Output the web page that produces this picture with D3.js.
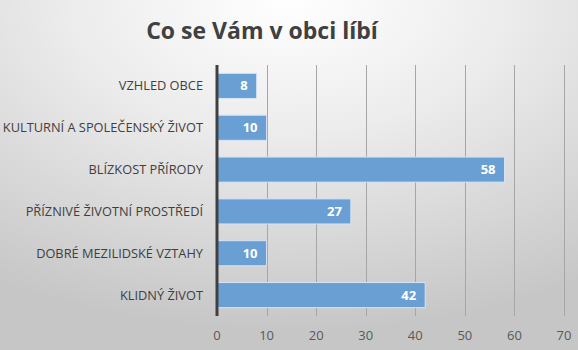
<!DOCTYPE html>
<html>
<head>
<meta charset="utf-8">
<script src="https://cdn.jsdelivr.net/npm/d3@7"></script>
<style>
	body { margin: 0; }
	svg { display: block; }
	.cat-label { font-family: "Open Sans", sans-serif; font-size: 12.8px; fill: #404040; }
	.tick-label { font-family: "Open Sans", sans-serif; font-size: 13px; fill: #595959; }
	.value-label { font-family: "Open Sans", sans-serif; font-size: 13px; font-weight: bold; fill: #ffffff; }
	.title { font-family: "Open Sans", sans-serif; font-size: 23px; font-weight: bold; fill: #404040; }
</style>
</head>
<body>
<svg width="578" height="350"></svg>
<script>
var categories = ["VZHLED OBCE", "KULTURNÍ A SPOLEČENSKÝ ŽIVOT", "BLÍZKOST PŘÍRODY", "PŘÍZNIVÉ ŽIVOTNÍ PROSTŘEDÍ", "DOBRÉ MEZILIDSKÉ VZTAHY", "KLIDNÝ ŽIVOT"];
var values = [8, 10, 58, 27, 10, 42];
var ticks = [0, 10, 20, 30, 40, 50, 60, 70];
var title = "Co se Vám v obci líbí";

var svg = d3.select("svg");
var width = 578, height = 350;

// soft radial background
var defs = svg.append("defs");
var grad = defs.append("radialGradient")
	.attr("id", "bg")
	.attr("cx", "50%").attr("cy", "0%")
	.attr("r", "95%");
grad.append("stop").attr("offset", "0%").attr("stop-color", "#ffffff");
grad.append("stop").attr("offset", "40%").attr("stop-color", "#ececec");
grad.append("stop").attr("offset", "100%").attr("stop-color", "#c6c6c6");

svg.append("rect")
	.attr("width", width)
	.attr("height", height)
	.attr("fill", "url(#bg)");

svg.append("text")
	.attr("class", "title")
	.attr("x", 262)
	.attr("y", 39)
	.attr("text-anchor", "middle")
	.text(title);

var plotLeft = 217, plotRight = 564, plotTop = 65, plotBottom = 316;

var x = d3.scaleLinear().domain([0, 70]).range([plotLeft, plotRight]);
var y = d3.scaleBand().domain(categories).range([plotTop, plotBottom]).paddingInner(0.4).paddingOuter(0.2);

// vertical gridlines
svg.selectAll(".grid")
	.data(ticks.slice(1))
	.enter().append("line")
	.attr("x1", function(d) { return Math.round(x(d)) + 0.5; })
	.attr("x2", function(d) { return Math.round(x(d)) + 0.5; })
	.attr("y1", plotTop)
	.attr("y2", plotBottom)
	.attr("stroke", "#a6a6a6")
	.attr("stroke-width", 1);

// bars
svg.selectAll(".bar")
	.data(values)
	.enter().append("rect")
	.attr("class", "bar")
	.attr("x", x(0))
	.attr("y", function(d, i) { return y(categories[i]); })
	.attr("width", function(d) { return x(d) - x(0); })
	.attr("height", y.bandwidth())
	.attr("fill", "#6a9fd4")
	.attr("stroke", "#d6e4f3")
	.attr("stroke-width", 1);

// value labels inside bar ends
svg.selectAll(".value-label")
	.data(values)
	.enter().append("text")
	.attr("class", "value-label")
	.attr("x", function(d) { return x(d) - 9; })
	.attr("y", function(d, i) { return y(categories[i]) + y.bandwidth() / 2; })
	.attr("dy", ".35em")
	.attr("text-anchor", "end")
	.text(function(d) { return d; });

// category axis line
svg.append("line")
	.attr("x1", x(0)).attr("x2", x(0))
	.attr("y1", plotTop).attr("y2", plotBottom)
	.attr("stroke", "#404040")
	.attr("stroke-width", 3);

svg.selectAll(".cat-label")
	.data(categories)
	.enter().append("text")
	.attr("class", "cat-label")
	.attr("x", 203)
	.attr("y", function(d) { return y(d) + y.bandwidth() / 2; })
	.attr("dy", ".35em")
	.attr("text-anchor", "end")
	.text(function(d) { return d; });

svg.selectAll(".tick-label")
	.data(ticks)
	.enter().append("text")
	.attr("class", "tick-label")
	.attr("x", function(d) { return x(d); })
	.attr("y", 340)
	.attr("text-anchor", "middle")
	.text(function(d) { return d; });
</script>
</body>
</html>
